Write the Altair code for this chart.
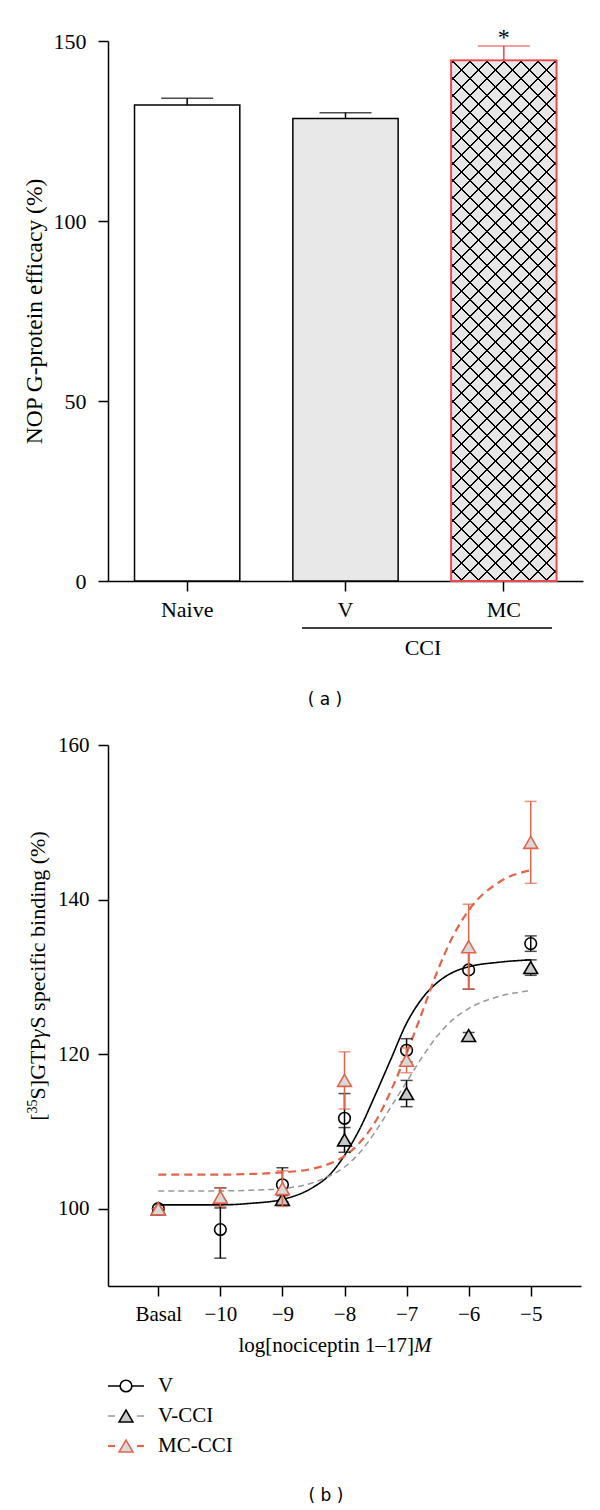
import altair as alt
import pandas as pd

# ---------------- panel (a) data ----------------
groups = ["Naive", "V", "MC"]
efficacy = [132.2, 128.5, 144.6]
efficacy_sem = [1.9, 1.6, 4.0]
bar_fills = ["#ffffff", "#e8e8e8", "#e6e6e6"]
bar_strokes = ["#000000", "#000000", "#e8474c"]
a_yticks = [0, 50, 100, 150]
a_ytitle = "NOP G-protein efficacy (%)"

# ---------------- panel (b) data ----------------
log_conc = [-11, -10, -9, -8, -7, -6, -5]          # -11 = Basal
conc_labels = ["Basal", "−10", "−9", "−8", "−7", "−6", "−5"]
series = ["V", "V-CCI", "MC-CCI"]
v_mean = [100.0, 97.3, 103.1, 111.7, 120.5, 130.9, 134.3]
v_sem = [0.0, 3.7, 2.2, 3.2, 1.5, 2.5, 1.0]
vcci_mean = [100.0, 101.4, 101.2, 108.9, 114.9, 122.4, 131.2]
vcci_sem = [0.0, 1.3, 0.5, 1.6, 1.7, 0.4, 1.0]
mccci_mean = [100.0, 101.5, 102.6, 116.6, 119.2, 133.9, 147.4]
mccci_sem = [0.0, 1.2, 2.3, 3.7, 1.6, 5.5, 5.3]

fit_x = [-11, -10, -9.5, -9, -8.5, -8.25, -8, -7.75, -7.5, -7.25, -7,
         -6.75, -6.5, -6.25, -6, -5.5, -5]
v_fit = [100.5, 100.5, 100.7, 101.2, 102.8, 104.3, 106.9, 110.4, 114.8,
         119.4, 124.0, 127.2, 129.3, 130.6, 131.3, 131.9, 132.2]
vcci_fit = [102.3, 102.3, 102.4, 102.6, 103.4, 104.2, 105.4, 107.3, 110.0,
            113.2, 116.4, 119.6, 122.4, 124.5, 125.9, 127.5, 128.2]
mccci_fit = [104.4, 104.4, 104.5, 104.7, 105.2, 105.8, 106.8, 108.6, 111.3,
             115.3, 120.1, 125.4, 130.8, 135.3, 138.6, 142.3, 143.8]
b_yticks = [100, 120, 140, 160]
# y title pieces: (text, size, style, raise)
b_ytitle_parts = [("[", 22, "normal", 0), ("35", 14, "normal", 8),
                  ("S]GTP", 22, "normal", 0), ("γ", 22, "italic", 0),
                  ("S specific binding (%)", 22, "normal", 0)]
b_xtitle = "log[nociceptin 1–17]"

RED_A = "#e8474c"
RED_B = "#e2654b"
SERIF = "Liberation Serif"

# Times/Liberation Serif advance widths (em) for laying out title pieces
_W = {"[": .333, "]": .333, "S": .556, "G": .722, "T": .611, "P": .556,
      "γ": .44, " ": .25, "s": .389, "p": .5, "e": .444, "c": .444, "i": .278,
      "f": .333, "b": .5, "n": .5, "d": .5, "g": .5, "(": .333, "%": .833,
      ")": .333, "3": .5, "5": .5}


def text_w(s, size):
    return sum(_W.get(ch, .5) for ch in s) * size


# ================= panel (a) =================
A_W, A_H = 475, 540
PAD_IN = 0.335
dfa = pd.DataFrame({
    "group": groups,
    "value": efficacy,
    "upper": [m + s for m, s in zip(efficacy, efficacy_sem)],
    "fill": bar_fills,
    "stroke": bar_strokes,
})

xa = alt.X("group:N", sort=groups,
           scale=alt.Scale(paddingInner=PAD_IN, paddingOuter=PAD_IN / 2),
           axis=alt.Axis(title=None, labelAngle=0, tickSize=10, labelPadding=8,
                         labelFontSize=22))
ya_scale = alt.Scale(domain=[0, 150], nice=False)
ya_axis = alt.Axis(values=a_yticks, title=a_ytitle, tickSize=10, labelFontSize=22,
                   labelPadding=12, titlePadding=7, titleFontSize=23.5)

base_a = alt.Chart(dfa)
bars = base_a.mark_bar(strokeWidth=1.5).encode(
    x=xa, y=alt.Y("value:Q", scale=ya_scale, axis=ya_axis),
    fill=alt.Fill("fill:N", scale=None),
    stroke=alt.Stroke("stroke:N", scale=None),
)

# cross-hatch for the MC bar (two striped gradients)
mc_h = efficacy[2] / 150 * A_H
mc_w = (A_W / 3) * (1 - PAD_IN)
D = mc_w + mc_h ** 2 / mc_w
PERIOD = 17.0
LW = 2.0


def stripes(phase, bg):
    stops = [alt.GradientStop(color=bg, offset=0)]
    c = phase
    while c < mc_w + mc_h + PERIOD:
        t0, t1 = c / D, (c + LW) / D
        if t1 >= 1:
            break
        stops += [alt.GradientStop(color=bg, offset=t0),
                  alt.GradientStop(color="#000000", offset=t0),
                  alt.GradientStop(color="#000000", offset=t1),
                  alt.GradientStop(color=bg, offset=t1)]
        c += PERIOD
    return stops


grad1 = alt.LinearGradient(gradient="linear", x1=0, y1=0, x2=1, y2=mc_h / mc_w,
                           stops=stripes(2.0, "#e6e6e6"))
grad2 = alt.LinearGradient(gradient="linear", x1=1, y1=0, x2=0, y2=mc_h / mc_w,
                           stops=stripes((mc_w - 2.0) % PERIOD, "transparent"))
mc_only = base_a.transform_filter(alt.datum.group == groups[2])
hatch1 = mc_only.mark_bar(fill=grad1, strokeWidth=0).encode(
    x=xa, y=alt.Y("value:Q", scale=ya_scale, axis=ya_axis))
hatch2 = mc_only.mark_bar(fill=grad2, strokeWidth=0).encode(
    x=xa, y=alt.Y("value:Q", scale=ya_scale, axis=ya_axis))
outline = mc_only.mark_bar(fillOpacity=0, stroke=RED_A, strokeWidth=1.8).encode(
    x=xa, y=alt.Y("value:Q", scale=ya_scale, axis=ya_axis))

err_a = base_a.mark_rule(strokeWidth=1.5).encode(
    x=xa, y=alt.Y("value:Q", scale=ya_scale, axis=ya_axis), y2="upper:Q",
    color=alt.Color("stroke:N", scale=None))
cap_a = base_a.mark_tick(orient="horizontal", size=52, thickness=1.5).encode(
    x=xa, y=alt.Y("upper:Q", scale=ya_scale, axis=ya_axis),
    color=alt.Color("stroke:N", scale=None))
star = mc_only.mark_text(text="*", font=SERIF, fontSize=24, baseline="alphabetic",
                         dy=-1, color="#000").encode(
    x=xa, y=alt.Y("upper:Q", scale=ya_scale, axis=ya_axis))

cci_df = pd.DataFrame({"t": ["CCI"]})
cci_line = alt.Chart(cci_df).mark_rule(strokeWidth=1.5, color="#000").encode(
    x=alt.value(194), x2=alt.value(444), y=alt.value(587))
cci_text = alt.Chart(cci_df).mark_text(font=SERIF, fontSize=22, baseline="middle").encode(
    x=alt.value(315), y=alt.value(607), text="t:N")
lab_a = alt.Chart(pd.DataFrame({"t": ["( a )"]})).mark_text(
    font="DejaVu Sans", fontSize=17, baseline="middle").encode(
    x=alt.value(217), y=alt.value(659), text="t:N")

panel_a = alt.layer(bars, hatch1, hatch2, outline, err_a, cap_a, star,
                    cci_line, cci_text, lab_a).properties(width=A_W, height=A_H)

# ================= panel (b) =================
B_W, B_H = 473, 541
xb_scale = alt.Scale(domain=[-11.81, -4.19], nice=False, zero=False)
yb_scale = alt.Scale(domain=[90, 160], nice=False, zero=False)
label_expr = "[" + ",".join("'%s'" % s for s in conc_labels) + "][datum.value - (%d)]" % log_conc[0]
xb_axis = alt.Axis(values=log_conc, labelExpr=label_expr, title=None,
                   tickSize=10, labelPadding=7)
yb_axis = alt.Axis(values=b_yticks, title=None, tickSize=10, labelPadding=9)

means = [v_mean, vcci_mean, mccci_mean]
sems = [v_sem, vcci_sem, mccci_sem]
fits = [v_fit, vcci_fit, mccci_fit]
shapes = ["circle", "triangle-up", "triangle-up"]
sizes = [135, 190, 190]
mk_fill = ["transparent", "#c8c8c8", "#d9d9d9"]
mk_stroke = ["#000000", "#000000", RED_B]
line_color = ["#000000", "#999999", RED_B]
line_width = [1.6, 1.5, 2.2]
line_dash = [[1, 0], [6, 4], [8, 5]]

curve_layers, point_layers = [], []
for i, name in enumerate(series):
    dfit = pd.DataFrame({"x": fit_x, "y": fits[i]})
    curve_layers.append(alt.Chart(dfit).mark_line(
        color=line_color[i], strokeWidth=line_width[i], strokeDash=line_dash[i],
        interpolate="monotone").encode(
        x=alt.X("x:Q", scale=xb_scale, axis=xb_axis),
        y=alt.Y("y:Q", scale=yb_scale, axis=yb_axis)))
    dp = pd.DataFrame({"x": log_conc, "m": means[i],
                       "lo": [m - s for m, s in zip(means[i], sems[i])],
                       "hi": [m + s for m, s in zip(means[i], sems[i])]})
    bp = alt.Chart(dp)
    point_layers.append(bp.mark_rule(color=mk_stroke[i], strokeWidth=1.5).encode(
        x=alt.X("x:Q", scale=xb_scale, axis=xb_axis),
        y=alt.Y("lo:Q", scale=yb_scale, axis=yb_axis), y2="hi:Q"))
    for fld in ["lo", "hi"]:
        point_layers.append(bp.mark_tick(orient="horizontal", size=12, thickness=1.5,
                                         color=mk_stroke[i]).encode(
            x=alt.X("x:Q", scale=xb_scale, axis=xb_axis),
            y=alt.Y(fld + ":Q", scale=yb_scale, axis=yb_axis)))
    point_layers.append(bp.mark_point(shape=shapes[i], size=sizes[i], filled=False,
                                      fill=mk_fill[i], stroke=mk_stroke[i],
                                      strokeWidth=1.6, opacity=1).encode(
        x=alt.X("x:Q", scale=xb_scale, axis=xb_axis),
        y=alt.Y("m:Q", scale=yb_scale, axis=yb_axis)))

# y-axis title assembled from pieces (superscript 35, italic gamma)
title_layers = []
TITLE_CY = 231
TITLE_BX = -63
total = sum(text_w(t, s) for t, s, _, _ in b_ytitle_parts)
cur = TITLE_CY + total / 2
for t, s, st, r in b_ytitle_parts:
    title_layers.append(alt.Chart(pd.DataFrame({"t": [t]})).mark_text(
        font=SERIF, fontSize=s, fontStyle=st, angle=270, align="left",
        baseline="alphabetic").encode(
        x=alt.value(TITLE_BX - r), y=alt.value(cur), text="t:N"))
    cur -= text_w(t, s)

# x-axis title (with italic M)
xt1 = alt.Chart(pd.DataFrame({"t": [b_xtitle]})).mark_text(
    font=SERIF, fontSize=21, align="right", baseline="middle").encode(
    x=alt.value(306), y=alt.value(601), text="t:N")
xt2 = alt.Chart(pd.DataFrame({"t": ["M"]})).mark_text(
    font=SERIF, fontSize=21, fontStyle="italic", align="left", baseline="middle").encode(
    x=alt.value(306), y=alt.value(601), text="t:N")

# legend
legend_layers = []
leg_y = [641, 671, 701]
leg_fill = ["#ffffff", "#c8c8c8", "#d9d9d9"]
for i, name in enumerate(series):
    ld = pd.DataFrame({"t": [name]})
    if i == 0:
        legend_layers.append(alt.Chart(ld).mark_rule(color=line_color[i], strokeWidth=1.6).encode(
            x=alt.value(0), x2=alt.value(36), y=alt.value(leg_y[i])))
    else:
        for a, b in [(0, 7), (29, 36)]:
            legend_layers.append(alt.Chart(ld).mark_rule(
                color=line_color[i], strokeWidth=line_width[i]).encode(
                x=alt.value(a), x2=alt.value(b), y=alt.value(leg_y[i])))
    legend_layers.append(alt.Chart(ld).mark_point(
        shape=shapes[i], size=sizes[i], fill=leg_fill[i], stroke=mk_stroke[i],
        strokeWidth=1.6, opacity=1, filled=False).encode(
        x=alt.value(18), y=alt.value(leg_y[i])))
    legend_layers.append(alt.Chart(ld).mark_text(
        font=SERIF, fontSize=21, align="left", baseline="middle").encode(
        x=alt.value(50), y=alt.value(leg_y[i]), text="t:N"))

lab_b = alt.Chart(pd.DataFrame({"t": ["( b )"]})).mark_text(
    font="DejaVu Sans", fontSize=17, baseline="middle").encode(
    x=alt.value(218), y=alt.value(751), text="t:N")

panel_b = alt.layer(*curve_layers, *point_layers, *title_layers, xt1, xt2,
                    *legend_layers, lab_b).properties(width=B_W, height=B_H)

chart = alt.vconcat(panel_a, panel_b, spacing=26).properties(
    padding={"left": 14, "top": 18, "right": 5, "bottom": 0}
).configure_view(stroke=None).configure_axis(
    labelFont=SERIF, labelFontSize=21, labelColor="#000",
    titleFont=SERIF, titleFontSize=22, titleFontWeight="normal", titleColor="#000",
    domainColor="#000", tickColor="#000", domainWidth=1.5, tickWidth=1.5, grid=False
).configure_text(font=SERIF, fontSize=21, color="#000")

chart.save("out.html", embed_options={"renderer": "svg", "actions": False})
